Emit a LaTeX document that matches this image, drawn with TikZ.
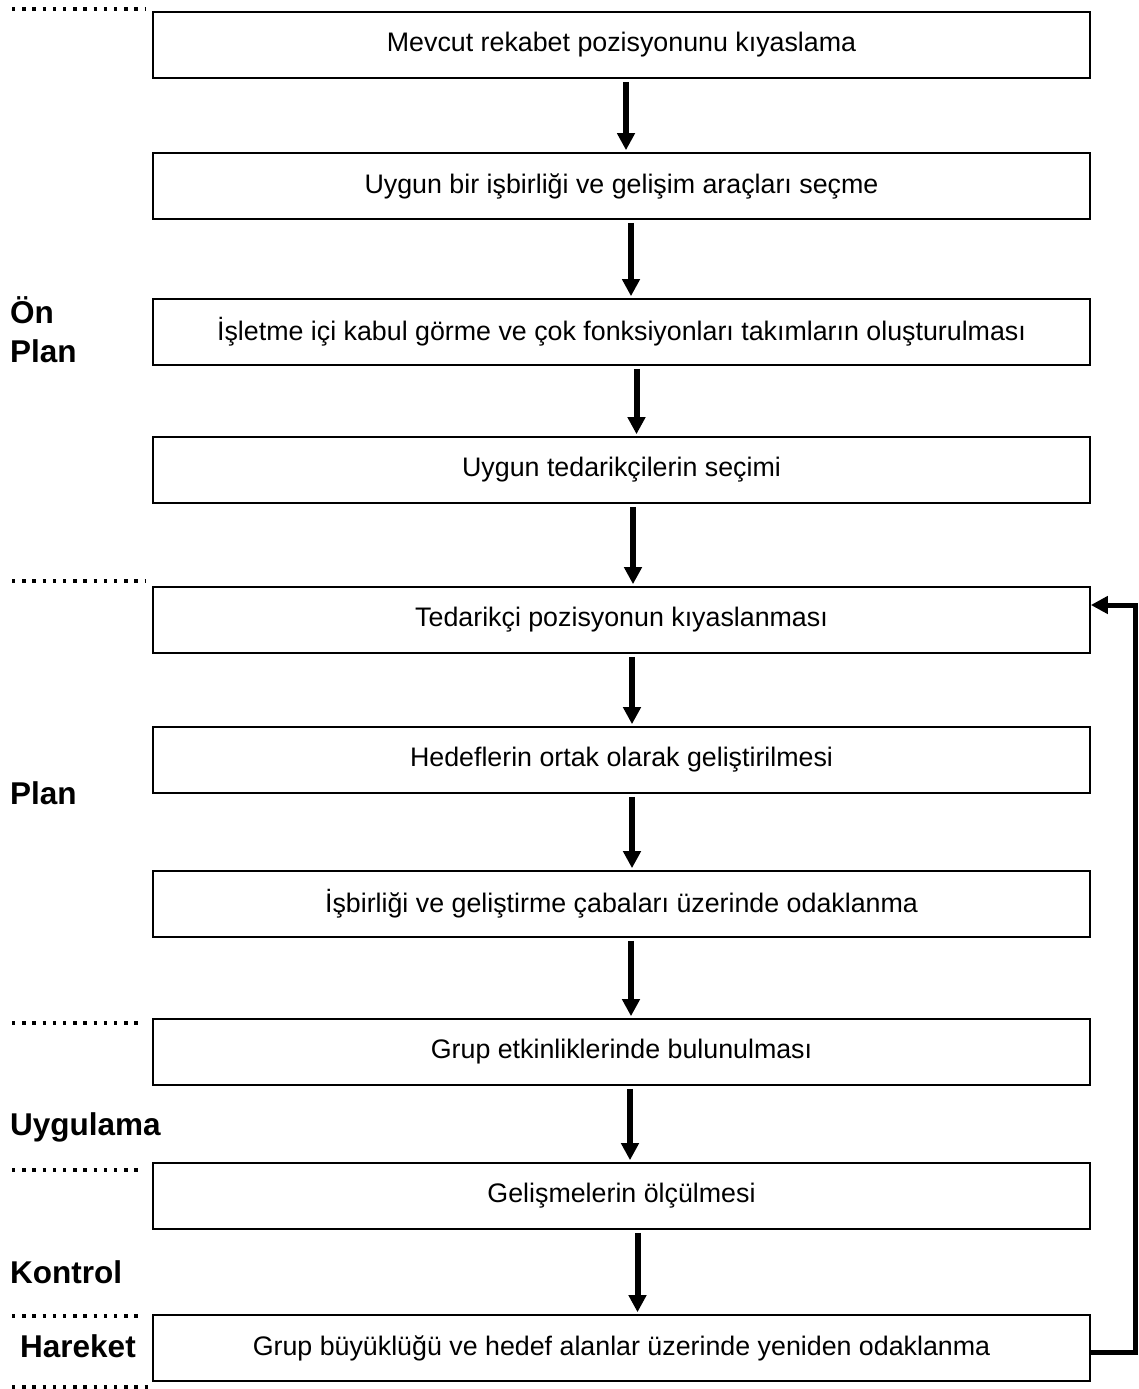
\documentclass[tikz,border=0pt]{standalone}
\usepackage{fontspec}
\setmainfont{Liberation Sans}
\usetikzlibrary{arrows.meta,calc}

\tikzset{
  stage/.style={draw, line width=1.6pt, minimum width=937pt, minimum height=66pt,
                inner sep=0pt, font=\fontsize{26.8}{30}\selectfont},
  phase/.style={anchor=base west, font=\fontsize{31.5}{39}\selectfont\bfseries,
                align=left, inner sep=0pt},
  flow/.style={line width=6pt, -{Triangle[width=17pt,length=17pt]},
               shorten <=3pt, shorten >=2pt},
  loopback/.style={line width=5pt, -{Triangle[width=17pt,length=17pt]}},
  divider/.style={line width=3.4pt, dash pattern=on 3.4pt off 6.8pt}
}

\begin{document}
\begin{tikzpicture}[x=1pt, y=-1pt]
  \useasboundingbox (0,0) rectangle (1139,1389);

  % process steps
  \node[stage] (b1)  at (621.5,45)   {Mevcut rekabet pozisyonunu kıyaslama};
  \node[stage] (b2)  at (621.5,186)  {Uygun bir işbirliği ve gelişim araçları seçme};
  \node[stage] (b3)  at (621.5,332)  {İşletme içi kabul görme ve çok fonksiyonları takımların oluşturulması};
  \node[stage] (b4)  at (621.5,470)  {Uygun tedarikçilerin seçimi};
  \node[stage] (b5)  at (621.5,620)  {Tedarikçi pozisyonun kıyaslanması};
  \node[stage] (b6)  at (621.5,760)  {Hedeflerin ortak olarak geliştirilmesi};
  \node[stage] (b7)  at (621.5,904)  {İşbirliği ve geliştirme çabaları üzerinde odaklanma};
  \node[stage] (b8)  at (621.5,1052) {Grup etkinliklerinde bulunulması};
  \node[stage] (b9)  at (621.5,1196) {Gelişmelerin ölçülmesi};
  \node[stage] (b10) at (621.5,1348) {Grup büyüklüğü ve hedef alanlar üzerinde yeniden odaklanma};

  % downward arrows between steps
  \draw[flow] ([xshift=4.5pt]b1.south)  -- ([xshift=4.5pt]b2.north);
  \draw[flow] ([xshift=9.5pt]b2.south)  -- ([xshift=9.5pt]b3.north);
  \draw[flow] ([xshift=15pt]b3.south)   -- ([xshift=15pt]b4.north);
  \draw[flow] ([xshift=11.5pt]b4.south) -- ([xshift=11.5pt]b5.north);
  \draw[flow] ([xshift=10.5pt]b5.south) -- ([xshift=10.5pt]b6.north);
  \draw[flow] ([xshift=10.5pt]b6.south) -- ([xshift=10.5pt]b7.north);
  \draw[flow] ([xshift=9.5pt]b7.south)  -- ([xshift=9.5pt]b8.north);
  \draw[flow] ([xshift=8.5pt]b8.south)  -- ([xshift=8.5pt]b9.north);
  \draw[flow] ([xshift=16pt]b9.south)   -- ([xshift=16pt]b10.north);

  % feedback loop from the last step back to supplier benchmarking
  \coordinate (rail) at (1135.5,0);
  \draw[loopback] ([yshift=-4pt]b10.east) -- ([yshift=-4pt]b10.east -| rail)
                  -- ([yshift=15pt]b5.east -| rail) -- ([yshift=15pt]b5.east);

  % phase dividers
  \draw[divider] (12,9)    -- (145,9);
  \draw[divider] (12,581)  -- (145,581);
  \draw[divider] (12,1023) -- (138,1023);
  \draw[divider] (12,1170) -- (138,1170);
  \draw[divider] (12,1316) -- (138,1316);
  \draw[divider] (12,1387) -- (152,1387);

  % phase names
  \node[phase] (p1) at (10,362)  {Ön\\Plan};
  \node[phase] (p2) at (10,804)  {Plan};
  \node[phase] (p3) at (10,1135) {Uygulama};
  \node[phase] (p4) at (10,1283) {Kontrol};
  \node[phase] (p5) at (20,1357) {Hareket};
\end{tikzpicture}
\end{document}
